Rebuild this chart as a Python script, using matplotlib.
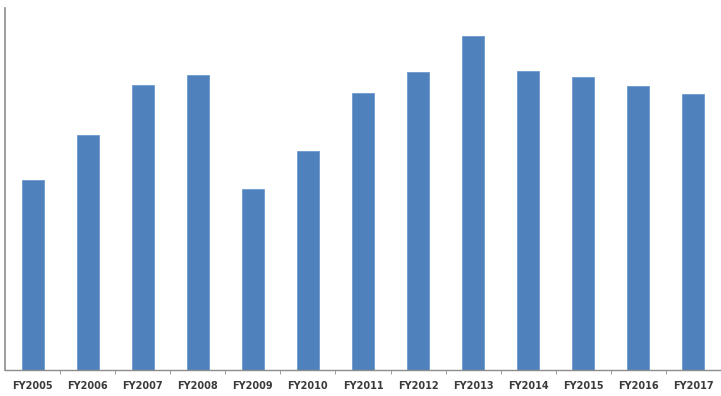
import numpy as np
import matplotlib.pyplot as plt

years = ["FY2005", "FY2006", "FY2007", "FY2008", "FY2009", "FY2010", "FY2011",
         "FY2012", "FY2013", "FY2014", "FY2015", "FY2016", "FY2017"]
values = [190, 235, 285, 295, 181, 219, 277, 298, 334, 299, 293, 284, 276]

fig = plt.figure(figsize=(7.21, 3.96), dpi=100)
ax = fig.add_axes([5 / 721, 26 / 396, 716 / 721, 362 / 396])

x = np.arange(len(years))
ax.bar(x, values, width=0.4, color="#4f81bd", edgecolor="#6f9bd0", linewidth=0.6)

ax.set_xlim(-0.5, len(years) - 0.5)
ax.set_ylim(0, 362)

# category labels, with tick marks on the category boundaries
ax.set_xticks(x)
ax.set_xticklabels(years, fontsize=7, fontweight="bold", color="#3a3a3a")
ax.tick_params(axis="x", which="major", length=0, pad=8)
ax.set_xticks(np.arange(0.5, len(years) - 0.5), minor=True)
ax.tick_params(axis="x", which="minor", length=3, color="#8c8c8c", direction="out")

ax.set_yticks([])
for side in ["top", "right"]:
    ax.spines[side].set_visible(False)
ax.spines["left"].set_color("#8c8c8c")
ax.spines["bottom"].set_color("#8c8c8c")
ax.spines["left"].set_linewidth(1.2)
ax.spines["bottom"].set_linewidth(1.0)

fig.savefig("out.png", dpi=100)
